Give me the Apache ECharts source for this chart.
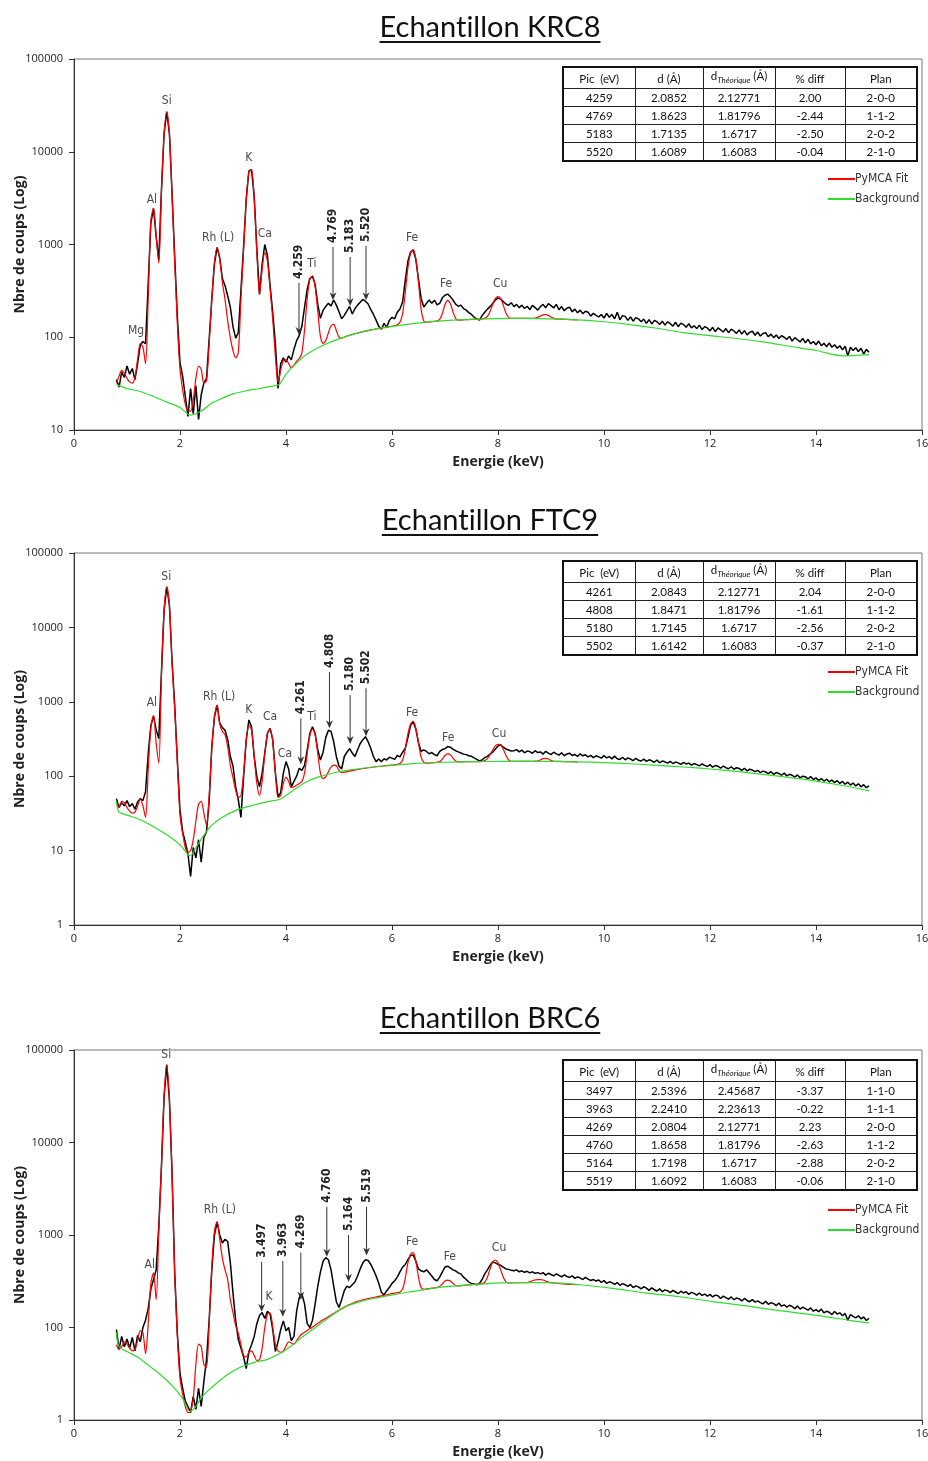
<!DOCTYPE html>
<html>
<head>
<meta charset="utf-8">
<script src="https://cdn.jsdelivr.net/npm/echarts@6/dist/echarts.min.js"></script>
<style>
  html, body { margin:0; padding:0; background:#fff; overflow:hidden; }
  #wrap { position:relative; width:928px; height:1461px; overflow:hidden; }
  #chart { position:absolute; left:0; top:0; width:928px; height:1461px; }
  .title { position:absolute; left:0; width:980px; text-align:center; font-family:Lato, "Open Sans", sans-serif; font-size:29px; color:#111; text-decoration:underline; text-decoration-thickness:2px; text-underline-offset:4px; line-height:36px; font-variant-ligatures:none; }
  table.tbl { position:absolute; left:562px; width:354px; border-collapse:collapse; font-family:Lato, "Open Sans", sans-serif; font-size:11.5px; color:#111; table-layout:fixed; border:2px solid #111; }
  table.tbl td { border:1px solid #222; text-align:center; padding:0; height:17px; line-height:15px; white-space:nowrap; }
  table.tbl tr.h td { height:20px; }
  table.tbl sub { font-style:italic; font-size:8px; }
</style>
</head>
<body>
<div id="wrap">
  <div id="chart"></div>
  <div class="title" style="top:8px">Echantillon KRC8</div>
  <div class="title" style="top:501px">Echantillon FTC9</div>
  <div class="title" style="top:999px">Echantillon BRC6</div>
  <table class="tbl" id="t1" style="top:66px"></table>
  <table class="tbl" id="t2" style="top:560px"></table>
  <table class="tbl" id="t3" style="top:1059px"></table>
</div>
<script>
// ---------------- DATA ----------------
// Energy grid of the spectra: first channel 0.80 keV, 0.05 keV per point
const E0 = 0.8, STEP = 0.05;

// ---- KRC8 ----
const krc8Counts = [
 35, 29, 42, 37, 49, 40, 46, 35, 52, 82, 90, 85, 380, 1700, 2450, 1220, 680, 3900, 15800, 27000,
 15800, 3560, 740, 168, 53, 38, 23, 14, 28, 15, 30, 13, 24, 32, 36, 95, 260, 620, 930, 720,
 430, 360, 280, 210, 130, 98, 112, 320, 950, 3100, 6200, 6400, 3300, 900, 290, 620, 1000, 760, 360, 185,
 85, 28, 52, 60, 54, 63, 57, 74, 92, 104, 132, 210, 330, 430, 455, 370, 225, 160, 195, 215,
 232, 218, 252, 222, 188, 158, 172, 192, 215, 178, 203, 222, 238, 256, 244, 228, 198, 176, 153, 131,
 122, 141, 128, 152, 164, 158, 186, 202, 240, 410, 660, 830, 870, 690, 420, 262, 212, 232, 252, 233,
 251, 224, 232, 266, 284, 292, 274, 252, 228, 216, 222, 204, 196, 184, 176, 164, 158, 153, 171, 186,
 201, 214, 232, 251, 266, 258, 242, 228, 221, 236, 214, 226, 208, 222, 204, 216, 199, 221, 209, 196,
 214, 226, 208, 231, 219, 207, 226, 198, 214, 193, 206, 211, 188, 201, 184, 196, 179, 191, 186, 169,
 181, 172, 166, 176, 161, 181, 164, 176, 158, 186, 154, 171, 168, 152, 166, 149, 163, 158, 147, 157,
 141, 155, 139, 152, 147, 137, 149, 135, 147, 140, 132, 145, 130, 142, 137, 128, 140, 126, 133, 124,
 135, 121, 130, 126, 117, 128, 115, 126, 120, 114, 124, 112, 122, 117, 110, 120, 108, 118, 106, 113,
 116, 105, 114, 103, 110, 112, 101, 108, 99, 106, 97, 104, 100, 95, 102, 91, 99, 94, 89, 97,
 87, 95, 85, 90, 83, 91, 81, 86, 79, 87, 78, 83, 76, 81, 73, 80, 63, 78, 72, 77,
 70, 76, 66, 74, 69
];
const krc8Fit = [
 32, 38, 44, 41, 36, 33, 32, 37, 58, 86, 78, 52, 260, 1800, 2450, 1250, 630, 3700, 15500, 27000,
 15500, 3400, 650, 140, 45, 27, 19, 16, 16, 21, 36, 49, 45, 32, 34, 85, 250, 640, 920, 690,
 390, 255, 150, 98, 72, 60, 68, 260, 880, 3000, 6100, 6300, 3100, 820, 290, 540, 820, 660, 330, 155,
 62, 33, 44, 56, 57, 52, 47, 50, 55, 59, 68, 120, 260, 420, 460, 350, 190, 102, 86, 92,
 112, 133, 138, 118, 100, 98, 100, 103, 105, 107, 109, 111, 113, 115, 116, 118, 120, 121, 123, 124,
 126, 127, 128, 130, 131, 133, 136, 145, 180, 300, 560, 800, 880, 700, 390, 200, 150, 145, 146, 147,
 148, 150, 156, 180, 225, 250, 232, 188, 160, 153, 153, 154, 155, 155, 156, 156, 157, 157, 158, 160,
 168, 190, 225, 262, 275, 262, 222, 182, 164, 160, 160, 160, 160, 160, 160, 160, 160, 160, 161, 164,
 169, 174, 176, 172, 165, 160, 158, 157, 157, 156, 156, 155, 155, 154, 154
];
const krc8Background = [
 [0.8,31],[1.0,28],[1.25,26],[1.5,23],[1.75,20],[2.0,17.5],[2.2,14.5],[2.4,16],[2.6,19.5],[2.8,22],
 [3.0,24.5],[3.25,26.5],[3.5,28],[3.7,29.5],[3.87,31],[4.0,40],[4.2,53],[4.4,66],[4.7,82],[5.0,96],
 [5.4,113],[5.8,126],[6.2,136],[6.6,145],[7.0,151],[7.5,156],[8.0,159],[8.5,160],[9.0,158],[9.5,154],
 [10.0,147],[10.5,137],[11.0,125],[11.5,112],[12.0,104],[12.5,97],[13.0,89],[13.5,80],[14.0,72],[14.5,63],[15.0,65]
];
const krc8Elements = [['Mg',1.17,118],['Al',1.47,3000],['Si',1.75,35000],['Rh (L)',2.72,1170],['K',3.30,8600],
  ['Ca',3.60,1300],['Ti',4.49,617],['Fe',6.38,1170],['Fe',7.02,375],['Cu',8.04,375]];
// [label, energy, value at arrow tip, value at arrow tail]
const krc8Arrows = [['4.259',4.245,106,385],['4.769',4.887,251,940],['5.183',5.21,217,733],['5.520',5.51,251,964]];
const krc8Table = [['4259','2.0852','2.12771','2.00','2-0-0'],['4769','1.8623','1.81796','-2.44','1-1-2'],
  ['5183','1.7135','1.6717','-2.50','2-0-2'],['5520','1.6089','1.6083','-0.04','2-1-0']];
const krc8YTicks = ['10','100','1000','10000','100000'];

// ---- FTC9 ----
const ftc9Counts = [
 50, 38, 44, 40, 47, 39, 43, 36, 45, 50, 47, 62, 200, 480, 640, 420, 320, 2500, 17000, 35000,
 20000, 3500, 900, 165, 35, 18, 13, 9, 4.5, 11, 8, 14, 7, 15, 18, 45, 250, 630, 900, 515,
 450, 415, 310, 184, 137, 72, 48, 28, 98, 310, 570, 460, 184, 98, 72, 110, 205, 377, 440, 310,
 110, 53, 60, 110, 157, 125, 72, 85, 100, 128, 120, 140, 225, 377, 460, 377, 225, 165, 210, 330,
 415, 400, 290, 184, 137, 125, 184, 210, 235, 205, 184, 225, 275, 310, 340, 290, 235, 184, 157, 170,
 157, 172, 165, 180, 175, 168, 190, 182, 210, 237, 330, 480, 540, 430, 280, 215, 226, 215, 200, 208,
 195, 188, 215, 228, 235, 250, 245, 232, 220, 212, 205, 198, 195, 188, 185, 176, 168, 160, 165, 178,
 185, 198, 210, 232, 255, 265, 245, 232, 225, 218, 220, 228, 212, 224, 206, 218, 214, 203, 220, 208,
 212, 198, 216, 204, 195, 210, 200, 192, 206, 188, 199, 204, 190, 196, 184, 200, 188, 194, 182, 190,
 178, 188, 182, 175, 190, 176, 183, 171, 186, 172, 168, 180, 166, 176, 170, 162, 174, 164, 160, 170,
 158, 166, 161, 154, 165, 152, 160, 156, 150, 158, 148, 155, 151, 144, 153, 146, 150, 141, 148, 143,
 138, 146, 140, 135, 143, 132, 139, 136, 128, 137, 130, 126, 134, 124, 130, 127, 120, 128, 118, 124,
 121, 115, 120, 112, 117, 114, 108, 115, 106, 112, 109, 103, 110, 101, 106, 103, 97, 104, 95, 100,
 98, 92, 99, 90, 95, 88, 93, 86, 91, 84, 89, 82, 87, 80, 85, 78, 83, 76, 81, 74,
 79, 72, 77, 70, 74
];
const ftc9Fit = [
 45, 38, 46, 44, 38, 34, 32, 33, 40, 49, 40, 28, 120, 450, 650, 280, 150, 2300, 17000, 35000,
 20000, 3300, 800, 150, 30, 17, 11, 9.5, 10, 14, 25, 42, 46, 32, 22, 55, 230, 620, 900, 500,
 400, 360, 250, 140, 95, 65, 52, 55, 110, 300, 480, 420, 180, 80, 55, 85, 200, 380, 430, 290,
 110, 52, 55, 80, 97, 85, 70, 72, 76, 80, 85, 110, 200, 350, 430, 360, 200, 110, 93, 98,
 115, 132, 141, 138, 120, 112, 113, 115, 117, 119, 121, 123, 125, 127, 128, 130, 131, 133, 134, 135,
 136, 138, 139, 140, 141, 142, 144, 148, 165, 230, 370, 500, 545, 440, 280, 180, 153, 150, 150, 151,
 152, 153, 157, 170, 190, 200, 195, 175, 160, 156, 156, 156, 157, 157, 157, 157, 157, 157, 158, 162,
 172, 195, 225, 255, 268, 262, 230, 190, 166, 159, 158, 158, 158, 158, 158, 158, 158, 158, 159, 160,
 166, 172, 174, 170, 163, 159, 158, 158, 158, 157, 157, 157, 157, 156, 156
];
const ftc9Background = [
 [0.8,45],[0.85,33],[1.0,30],[1.2,27],[1.4,23],[1.6,19],[1.8,15.5],[2.0,12],[2.19,8.5],[2.3,11],
 [2.45,16],[2.6,22],[2.8,28],[3.07,35],[3.4,41],[3.7,46],[3.89,49],[4.1,62],[4.33,80],[4.6,97],
 [4.96,113],[5.3,124],[5.6,132],[6.0,140],[6.4,148],[7.0,154],[7.5,157],[8.0,158],[8.5,159],[9.0,158],
 [9.5,156],[10.0,152],[10.5,147],[11.0,140],[11.5,133],[12.0,125],[12.5,116],[13.0,106],[13.5,96],[14.0,86],[14.5,75],[15.0,64]
];
const ftc9Elements = [['Si',1.74,47500],['Al',1.47,955],['Rh (L)',2.74,1160],['K',3.30,776],['Ca',3.70,630],
  ['Ca',3.98,200],['Ti',4.49,630],['Fe',6.38,705],['Fe',7.06,325],['Cu',8.02,369]];
const ftc9Arrows = [['4.261',4.28,145,600],['4.808',4.82,440,2520],['5.180',5.21,270,1230],['5.502',5.51,345,1520]];
const ftc9Table = [['4261','2.0843','2.12771','2.04','2-0-0'],['4808','1.8471','1.81796','-1.61','1-1-2'],
  ['5180','1.7145','1.6717','-2.56','2-0-2'],['5502','1.6142','1.6083','-0.37','2-1-0']];
const ftc9YTicks = ['1','10','100','1000','10000','100000'];

// ---- BRC6 ----
const brc6Counts = [
 95, 58, 80, 62, 75, 60, 78, 56, 82, 70, 100, 120, 160, 260, 330, 420, 1240, 5500, 31500, 69000,
 29000, 4650, 390, 87, 32, 22, 16, 14, 12, 18, 13, 22, 14, 26, 45, 120, 420, 1000, 1380, 1000,
 820, 900, 850, 500, 235, 120, 74, 60, 48, 36, 55, 65, 80, 110, 135, 145, 125, 150, 140, 95,
 55, 70, 95, 118, 92, 100, 72, 80, 150, 210, 230, 180, 110, 100, 120, 180, 280, 400, 520, 570,
 540, 420, 280, 190, 165, 200, 250, 280, 270, 290, 310, 360, 430, 500, 540, 530, 480, 420, 360, 300,
 240, 225, 250, 270, 300, 320, 350, 400, 450, 480, 540, 600, 610, 520, 430, 410, 400, 420, 390, 360,
 330, 320, 350, 400, 450, 460, 440, 420, 410, 390, 380, 350, 330, 310, 300, 295, 290, 300, 330, 380,
 420, 470, 510, 500, 480, 470, 450, 430, 425, 415, 410, 420, 400, 410, 395, 405, 390, 400, 385, 392,
 380, 392, 368, 386, 374, 362, 380, 366, 352, 371, 356, 348, 362, 340, 352, 344, 330, 348, 334, 322,
 330, 318, 326, 308, 322, 300, 312, 305, 292, 306, 286, 298, 290, 278, 292, 270, 282, 275, 262, 276,
 266, 252, 268, 256, 248, 262, 244, 255, 250, 238, 252, 242, 232, 247, 236, 244, 228, 240, 234, 224,
 236, 222, 230, 218, 228, 214, 224, 220, 206, 218, 210, 202, 214, 200, 208, 204, 194, 206, 196, 190,
 200, 188, 194, 186, 180, 192, 178, 186, 181, 172, 184, 170, 176, 166, 174, 168, 160, 171, 158, 166,
 160, 154, 163, 150, 156, 148, 158, 144, 150, 146, 138, 149, 140, 144, 134, 142, 120, 138, 132, 127,
 134, 124, 130, 119, 126
];
const brc6Fit = [
 65, 58, 62, 70, 66, 60, 56, 58, 72, 92, 88, 52, 110, 300, 390, 200, 1100, 5500, 31500, 69000,
 29000, 4600, 380, 80, 28, 19, 14, 12, 12.5, 17, 40, 66, 62, 40, 37, 110, 450, 1100, 1400, 900,
 560, 420, 330, 200, 144, 105, 87, 65, 50, 48, 54, 56, 50, 44, 45, 60, 100, 140, 144, 100,
 66, 56, 54, 56, 63, 70, 68, 66, 72, 79, 85, 89, 93, 97, 101, 106, 111, 116, 121, 126,
 131, 136, 142, 148, 154, 160, 166, 172, 177, 182, 187, 192, 196, 199, 202, 205, 208, 211, 214, 217,
 220, 223, 226, 229, 232, 235, 238, 242, 260, 340, 500, 620, 645, 520, 350, 270, 258, 261, 263, 266,
 268, 271, 278, 295, 318, 325, 318, 300, 285, 281, 283, 285, 287, 289, 291, 293, 295, 296, 298, 310,
 350, 430, 510, 537, 500, 420, 350, 312, 303, 304, 305, 305, 305, 305, 305, 306, 312, 320, 326, 330,
 330, 326, 318, 310, 305, 303, 301, 299, 297, 296, 294, 293, 292, 291, 290
];
const brc6Background = [
 [0.8,88],[0.85,62],[1.0,55],[1.2,48],[1.43,38],[1.6,32],[1.87,23],[2.05,17],[2.19,12.3],[2.3,14],
 [2.38,16.7],[2.5,20],[2.69,25],[2.9,31],[3.13,37],[3.4,42],[3.64,45],[3.95,55],[4.26,75],[4.5,95],
 [4.83,131],[5.1,165],[5.46,195],[5.77,212],[6.08,230],[6.4,246],[6.71,262],[7.02,277],[7.66,295],[8.29,305],
 [8.92,305],[9.55,290],[10.17,265],[10.8,235],[11.43,215],[12.06,190],[12.69,171],[13.31,152],[13.94,137],[14.7,118],[15.0,112]
];
const brc6Elements = [['Si',1.74,88000],['Al',1.43,474],['Rh (L)',2.75,1860],['K',3.68,214],['Fe',6.38,841],['Fe',7.09,575],['Cu',8.02,720]];
const brc6Arrows = [['3.497',3.54,148,514],['3.963',3.94,131,525],['4.269',4.28,200,645],['4.760',4.77,582,2020],['5.164',5.18,313,1000],['5.519',5.52,600,2020]];
const brc6Table = [['3497','2.5396','2.45687','-3.37','1-1-0'],['3963','2.2410','2.23613','-0.22','1-1-1'],
  ['4269','2.0804','2.12771','2.23','2-0-0'],['4760','1.8658','1.81796','-2.63','1-1-2'],
  ['5164','1.7198','1.6717','-2.88','2-0-2'],['5519','1.6092','1.6083','-0.06','2-1-0']];
const brc6YTicks = ['1','100','1000','10000','100000'];

const xTicks = ['0','2','4','6','8','10','12','14','16'];
const tableHeader = ['Pic&nbsp; (eV)','d (Å)','d<sub>Théorique</sub> (Å)','% diff','Plan'];

// ---------------- TABLES ----------------
function fillTable(id, rows){
  const t = document.getElementById(id);
  let h = '<colgroup><col style="width:72px"><col style="width:68px"><col style="width:72px"><col style="width:70px"><col style="width:72px"></colgroup>';
  h += '<tr class="h">' + tableHeader.map(c => '<td>' + c + '</td>').join('') + '</tr>';
  rows.forEach(r => { h += '<tr>' + r.map(c => '<td>' + c + '</td>').join('') + '</tr>'; });
  t.innerHTML = h;
}
fillTable('t1', krc8Table); fillTable('t2', ftc9Table); fillTable('t3', brc6Table);

// ---------------- CHART ----------------
const toPairs = arr => arr.map((v, i) => [+(E0 + i * STEP).toFixed(2), v]);
const NARROW = '"Liberation Sans Narrow", "DejaVu Sans Condensed", sans-serif';

const charts = [
  { counts: krc8Counts, fit: krc8Fit, bg: krc8Background, el: krc8Elements, ar: krc8Arrows, ticks: krc8YTicks, min: 10, top: 59, h: 371, legendTop: 168 },
  { counts: ftc9Counts, fit: ftc9Fit, bg: ftc9Background, el: ftc9Elements, ar: ftc9Arrows, ticks: ftc9YTicks, min: 1, top: 553, h: 372, legendTop: 661 },
  { counts: brc6Counts, fit: brc6Fit, bg: brc6Background, el: brc6Elements, ar: brc6Arrows, ticks: brc6YTicks, min: 10, top: 1050, h: 370, legendTop: 1199 }
];

const option = { animation: false, grid: [], xAxis: [], yAxis: [], series: [], legend: [] };

charts.forEach((c, gi) => {
  option.grid.push({ left: 74, top: c.top, width: 848, height: c.h, show: true, borderColor: '#777', borderWidth: 1,
    containLabel: false, outerBoundsMode: 'none' });
  option.xAxis.push({
    gridIndex: gi, type: 'value', min: 0, max: 16, interval: 2,
    name: 'Energie (keV)', nameLocation: 'middle', nameGap: 25, nameMoveOverlap: false,
    nameTextStyle: { fontFamily: '"Open Sans", sans-serif', fontWeight: 'bold', fontSize: 14, color: '#222' },
    axisLine: { show: true, onZero: false, lineStyle: { color: '#333', width: 1 } },
    axisTick: { show: true, length: 5, lineStyle: { color: '#333' } },
    axisLabel: { margin: 8, fontFamily: '"Open Sans", sans-serif', fontSize: 11, color: '#222',
      formatter: v => xTicks[Math.round(v / 2)] },
    splitLine: { show: false }
  });
  option.yAxis.push({
    gridIndex: gi, type: 'log', logBase: 10, min: c.min, max: 100000,
    name: 'Nbre de coups (Log)', nameLocation: 'middle', nameGap: 47, nameMoveOverlap: false,
    nameTextStyle: { fontFamily: '"Open Sans", sans-serif', fontWeight: 'bold', fontSize: 14, color: '#222' },
    axisLine: { show: true, lineStyle: { color: '#333', width: 1 } },
    axisTick: { show: true, length: 5, lineStyle: { color: '#333' } },
    axisLabel: { margin: 11, fontFamily: '"Open Sans", sans-serif', fontSize: 11, color: '#222',
      formatter: v => {
        const idx = Math.round(Math.log10(v) - Math.log10(c.min));
        return c.ticks[idx] !== undefined ? c.ticks[idx] : '';
      } },
    splitLine: { show: false }, minorTick: { show: false }
  });
  option.legend.push({
    data: ['PyMCA Fit', 'Background'], orient: 'vertical', left: 823, top: c.legendTop,
    icon: 'rect', itemWidth: 27, itemHeight: 2, itemGap: 8, selectedMode: false,
    textStyle: { fontFamily: NARROW, fontSize: 12, color: '#333', padding: [0, 0, 0, -5] }
  });
  option.series.push({
    name: 'Spectre', type: 'line', xAxisIndex: gi, yAxisIndex: gi, data: toPairs(c.counts),
    symbol: 'none', lineStyle: { color: '#000', width: 1.5 }, itemStyle: { color: '#000' }, z: 2, silent: true
  });
  option.series.push({
    name: 'PyMCA Fit', type: 'line', xAxisIndex: gi, yAxisIndex: gi, data: toPairs(c.fit), smooth: 0.3,
    symbol: 'none', lineStyle: { color: '#ff0000', width: 1.2 }, itemStyle: { color: '#ff0000' }, z: 3, silent: true
  });
  option.series.push({
    name: 'Background', type: 'line', xAxisIndex: gi, yAxisIndex: gi, data: c.bg, smooth: 0.3,
    symbol: 'none', lineStyle: { color: '#2fdc2f', width: 1.2 }, itemStyle: { color: '#2fdc2f' }, z: 4, silent: true
  });
  const el = c.el;
  option.series.push({
    type: 'custom', xAxisIndex: gi, yAxisIndex: gi, silent: true, z: 6, clip: false,
    data: el.map(e => [e[1], e[2]]),
    renderItem: (params, api) => {
      const e = el[params.dataIndex];
      const p = api.coord([e[1], e[2]]);
      return { type: 'text', x: p[0], y: p[1], style: { text: e[0], align: 'center', verticalAlign: 'middle',
        font: '12px ' + NARROW, fill: '#4a4a4a' } };
    }
  });
  const ar = c.ar;
  option.series.push({
    type: 'custom', xAxisIndex: gi, yAxisIndex: gi, silent: true, z: 7, clip: false,
    data: ar.map(a => [a[1], a[2], a[3]]),
    renderItem: (params, api) => {
      const a = ar[params.dataIndex];
      const tip = api.coord([a[1], a[2]]);
      const tail = api.coord([a[1], a[3]]);
      const x = tip[0];
      return { type: 'group', children: [
        { type: 'line', shape: { x1: x, y1: tail[1], x2: x, y2: tip[1] - 4 }, style: { stroke: '#333', lineWidth: 1 } },
        { type: 'polygon', shape: { points: [[x - 3.5, tip[1] - 8], [x, tip[1] - 5.5], [x + 3.5, tip[1] - 8], [x, tip[1]]] }, style: { fill: '#333' } },
        { type: 'text', x: x, y: tail[1] - 4, rotation: Math.PI / 2,
          style: { text: a[0], align: 'left', verticalAlign: 'middle', font: 'bold 12px ' + NARROW, fill: '#222' } }
      ] };
    }
  });
});

const chart = echarts.init(document.getElementById('chart'), null, { renderer: 'canvas' });
chart.setOption(option);
</script>
</body>
</html>
